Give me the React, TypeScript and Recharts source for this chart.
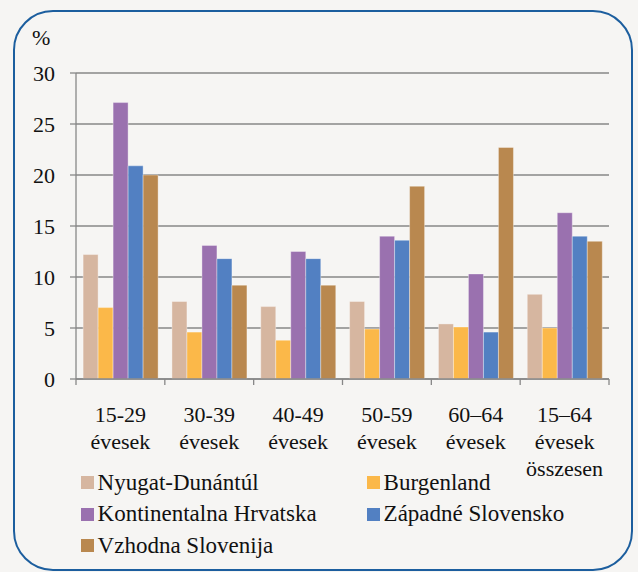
import React from 'react';
import { BarChart, Bar, XAxis, YAxis, CartesianGrid, Legend } from 'recharts';

const categoryLines: string[][] = [
  ['15-29', 'évesek'],
  ['30-39', 'évesek'],
  ['40-49', 'évesek'],
  ['50-59', 'évesek'],
  ['60–64', 'évesek'],
  ['15–64', 'évesek', 'összesen'],
];

const seriesNames = [
  'Nyugat-Dunántúl',
  'Burgenland',
  'Kontinentalna Hrvatska',
  'Západné Slovensko',
  'Vzhodna Slovenija',
];

const nyugat = [12.2, 7.6, 7.1, 7.6, 5.4, 8.3];
const burgenland = [7.0, 4.6, 3.8, 4.9, 5.1, 5.0];
const kontinentalna = [27.1, 13.1, 12.5, 14.0, 10.3, 16.3];
const zapadne = [20.9, 11.8, 11.8, 13.6, 4.6, 14.0];
const vzhodna = [20.0, 9.2, 9.2, 18.9, 22.7, 13.5];

const yTicks = [0, 5, 10, 15, 20, 25, 30];
const edgeTicks = [0, 1, 2, 3, 4, 5, 6];

const colors = ['#D6B6A0', '#FBB849', '#9A71AF', '#5280C2', '#B9884F'];
const seriesValues = [nyugat, burgenland, kontinentalna, zapadne, vzhodna];
const keys = ['s0', 's1', 's2', 's3', 's4'];

const data = categoryLines.map((lines, i) => {
  const row: Record<string, any> = { cat: lines.join('\n'), pos: i + 0.5 };
  seriesValues.forEach((vals, s) => {
    row[keys[s]] = vals[i];
  });
  return row;
});

const FONT = '"Liberation Serif", "DejaVu Serif", serif';
const AXIS = '#878787';

const CatTick = (props: any) => {
  const { x, y, payload } = props;
  const lines = String(payload.value).split('\n');
  return (
    <g transform={`translate(${x},${y})`}>
      {lines.map((l, i) => (
        <text
          key={i}
          x={0}
          y={34 + i * 27}
          textAnchor="middle"
          fontSize={22}
          fontFamily={FONT}
          fill="#111"
        >
          {l}
        </text>
      ))}
    </g>
  );
};

const LegendContent = () => {
  return (
    <div
      style={{
        display: 'grid',
        gridTemplateColumns: '286px 286px',
        fontFamily: FONT,
        fontSize: 23,
        color: '#111',
      }}
    >
      {seriesNames.map((name, i) => (
        <div key={i} style={{ display: 'flex', alignItems: 'center', height: 31.5, whiteSpace: 'nowrap' }}>
          <span
            style={{
              display: 'inline-block',
              width: 12.6,
              height: 12.6,
              background: colors[i],
              marginRight: 4,
            }}
          />
          <span>{name}</span>
        </div>
      ))}
    </div>
  );
};

export default function App() {
  return (
    <div
      style={{
        position: 'absolute',
        left: 0,
        top: 0,
        width: 638,
        height: 572,
        background: '#F6F5F3',
        fontFamily: FONT,
        overflow: 'hidden',
      }}
    >
      <div
        style={{
          position: 'absolute',
          left: 13,
          top: 10,
          width: 620,
          height: 561,
          border: '2px solid #1C5E9E',
          borderRadius: 40,
          boxSizing: 'border-box',
        }}
      />
      <div
        style={{
          position: 'absolute',
          left: 32,
          top: 25,
          fontSize: 22,
          color: '#111',
          fontFamily: FONT,
          lineHeight: '26px',
        }}
      >
        %
      </div>
      <div style={{ position: 'absolute', left: 0, top: 0 }}>
        <BarChart
          width={638}
          height={572}
          data={data}
          margin={{ top: 73, right: 29, left: 16, bottom: 132 }}
          barCategoryGap="8%"
          barGap={0}
        >
          <CartesianGrid vertical={false} stroke={AXIS} strokeWidth={1.3} />
          <XAxis
            xAxisId="aEdge"
            dataKey="pos"
            type="number"
            domain={[0, 6]}
            ticks={edgeTicks}
            height={1}
            tickSize={6}
            tickLine={{ stroke: AXIS, strokeWidth: 1.3 }}
            axisLine={{ stroke: AXIS, strokeWidth: 1.3 }}
            tickFormatter={() => ''}
          />
          <XAxis
            xAxisId="zCat"
            dataKey="cat"
            height={60}
            interval={0}
            tickLine={false}
            axisLine={false}
            tick={<CatTick />}
          />
          <YAxis
            domain={[0, 30]}
            ticks={yTicks}
            width={60}
            tickSize={6}
            tickMargin={15}
            tickLine={{ stroke: AXIS, strokeWidth: 1.3 }}
            axisLine={{ stroke: AXIS, strokeWidth: 1.3 }}
            tick={{ fontSize: 22, fontFamily: FONT, fill: '#111' }}
          />
          <YAxis
            yAxisId="r"
            orientation="right"
            width={0}
            domain={[0, 30]}
            tick={false}
            tickLine={false}
            axisLine={{ stroke: '#9a9a9a', strokeWidth: 1.5 }}
          />
          <Legend
            layout="vertical"
            align="center"
            verticalAlign="middle"
            content={<LegendContent />}
            wrapperStyle={{ position: 'absolute', top: 467, left: 81, width: 572 }}
          />
          {keys.map((k, i) => (
            <Bar
              key={k}
              xAxisId="zCat"
              dataKey={k}
              name={seriesNames[i]}
              fill={colors[i]}
              stroke="#ffffff"
              strokeOpacity={0.35}
              strokeWidth={1}
              isAnimationActive={false}
            />
          ))}
        </BarChart>
      </div>
    </div>
  );
}
